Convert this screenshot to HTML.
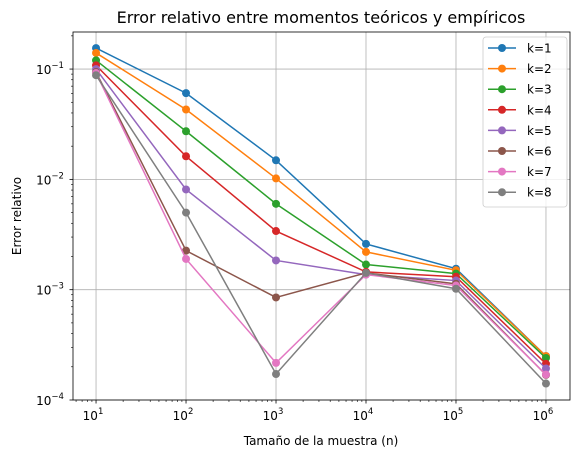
<!DOCTYPE html>
<html><head><meta charset="utf-8"><style>
body{margin:0;background:#fff;font-family:"DejaVu Sans","Liberation Sans",sans-serif;}
svg text{font-family:"DejaVu Sans","Liberation Sans",sans-serif;}
</style></head><body>
<svg id="chart" width="578" height="458" xmlns="http://www.w3.org/2000/svg"></svg>
<script>
const categories = [10, 100, 1000, 10000, 100000, 1000000];
const seriesNames = ["k=1","k=2","k=3","k=4","k=5","k=6","k=7","k=8"];
const k1 = [0.155, 0.0605, 0.0149, 0.0026, 0.00155, 0.00025];
const k2 = [0.14, 0.043, 0.0102, 0.0022, 0.0015, 0.00025];
const k3 = [0.12, 0.0273, 0.0060, 0.00169, 0.0014, 0.00024];
const k4 = [0.108, 0.0162, 0.0034, 0.00145, 0.00131, 0.000213];
const k5 = [0.1, 0.0081, 0.00184, 0.00137, 0.00121, 0.000193];
const k6 = [0.094, 0.00226, 0.00085, 0.00142, 0.00113, 0.000169];
const k7 = [0.092, 0.0019, 0.000217, 0.00137, 0.00109, 0.00017];
const k8 = [0.088, 0.0050, 0.000172, 0.00142, 0.00102, 0.000141];
const xTickExps = [1,2,3,4,5,6];
const yTickExps = [-1,-2,-3,-4];
const series = [k1,k2,k3,k4,k5,k6,k7,k8];
const colors = ["#1f77b4","#ff7f0e","#2ca02c","#d62728","#9467bd","#8c564b","#e377c2","#7f7f7f"];
const L=73,R=570,T=32,B=400;
const xMin=0.744,xMax=6.267,yMin=-4,yMax=-0.664;
const xs=v=>L+(Math.log10(v)-xMin)/(xMax-xMin)*(R-L);
const ys=v=>B-(Math.log10(v)-yMin)/(yMax-yMin)*(B-T);
const svg=document.getElementById('chart');
const NS="http://www.w3.org/2000/svg";
function mk(tag,attrs,parent){const e=document.createElementNS(NS,tag);for(const k in attrs)e.setAttribute(k,attrs[k]);(parent||svg).appendChild(e);return e;}
const grid=mk('g',{});


xTickExps.forEach(e=>{const x=xs(Math.pow(10,e));mk('line',{x1:x,x2:x,y1:T,y2:B,stroke:'#b0b0b0','stroke-width':0.8},grid);});
yTickExps.forEach(e=>{const y=ys(Math.pow(10,e));mk('line',{x1:L,x2:R,y1:y,y2:y,stroke:'#b0b0b0','stroke-width':0.8},grid);});
const ticks=mk('g',{});


for(let e=0;e<=6;e++){for(let m=1;m<10;m++){const v=m*Math.pow(10,e);const lv=Math.log10(v);if(lv<xMin||lv>xMax)continue;const x=xs(v);mk('line',{x1:x,x2:x,y1:B,y2:B+(m==1?3.5:2),stroke:'#000','stroke-width':m==1?0.8:0.6},ticks);}}
for(let e=-5;e<=0;e++){for(let m=1;m<10;m++){const v=m*Math.pow(10,e);const lv=Math.log10(v);if(lv<yMin-1e-9||lv>yMax)continue;const y=ys(v);mk('line',{x1:L,x2:L-(m==1?3.5:2),y1:y,y2:y,stroke:'#000','stroke-width':m==1?0.8:0.6},ticks);}}
xTickExps.forEach(e=>{const x=xs(Math.pow(10,e));const t=mk('text',{x:x-3,y:B+20,'font-size':12,'text-anchor':'middle'});t.textContent='10';const s=mk('tspan',{dy:-6,'font-size':8.5},t);s.textContent=e;});
yTickExps.forEach(e=>{const y=ys(Math.pow(10,e));const t=mk('text',{x:L-23,y:y+5,'font-size':12,'text-anchor':'middle'});t.textContent='10';const s=mk('tspan',{dy:-6,'font-size':8.5},t);s.textContent='−'+(-e);});
series.forEach((d,i)=>{const g=mk('g',{});
mk('polyline',{points:d.map((v,j)=>xs(categories[j])+','+ys(v)).join(' '),fill:'none',stroke:colors[i],'stroke-width':1.5},g);
d.forEach((v,j)=>{const c=mk('circle',{cx:xs(categories[j]),cy:ys(v),r:4,fill:colors[i]},g);});});
const fr=mk('rect',{x:L,y:T,width:R-L,height:B-T,fill:'none',stroke:'#000','stroke-width':0.8});

const lg=mk('g',{});
mk('rect',{x:483,y:37,width:84,height:170,rx:3,fill:'#fff','fill-opacity':0.8,stroke:'#ccc','stroke-width':0.8},lg);
seriesNames.forEach((n,i)=>{const y=48+i*20.6;const e=mk('g',{},lg);
mk('line',{x1:488,x2:516,y1:y,y2:y,stroke:colors[i],'stroke-width':1.5},e);mk('circle',{cx:502,cy:y,r:4,fill:colors[i]},e);
const t=mk('text',{x:527,y:y+4.5,'font-size':12},e);t.textContent=n;});
const tt=mk('text',{x:321,y:23,'font-size':16,'text-anchor':'middle'});tt.textContent='Error relativo entre momentos teóricos y empíricos';
const xt=mk('text',{x:321,y:445,'font-size':12,'text-anchor':'middle'});xt.textContent='Tamaño de la muestra (n)';
const yt=mk('text',{x:21,y:216,'font-size':12,'text-anchor':'middle',transform:'rotate(-90 21 216)'});yt.textContent='Error relativo';
</script>
</body></html>
